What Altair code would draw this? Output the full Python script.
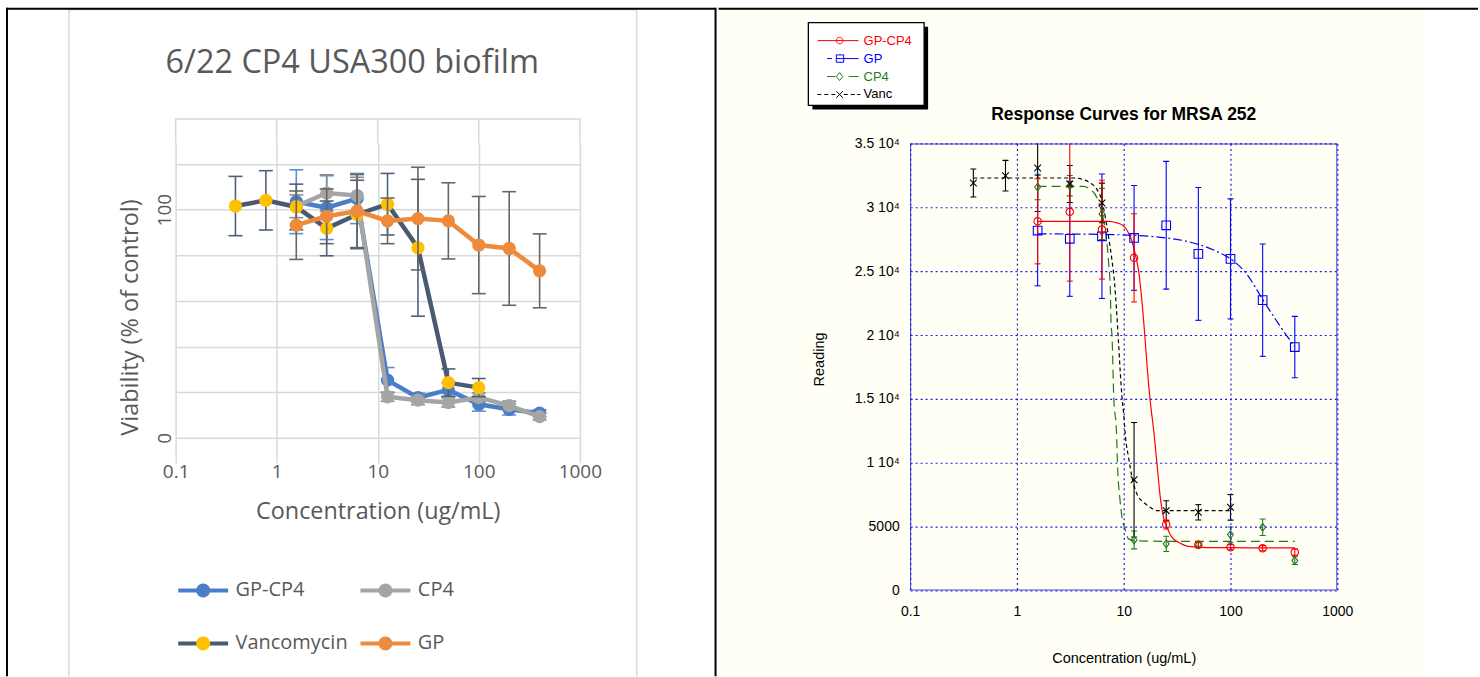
import math
import altair as alt
import pandas as pd

# ---------------- values ----------------
CONC = [0.390625, 0.78125, 1.5625, 3.125, 6.25, 12.5, 25, 50, 100, 200, 400]
X_TICKS = [0.1, 1, 10, 100, 1000]

# left panel: viability (% of control)
LEFT_SERIES = ["GP-CP4", "CP4", "Vancomycin", "GP"]
L_GPCP4 = [103.5, 100.9, 104.9, 25.3, 17.6, 21.0, 14.7, 12.5, 10.8]
L_GPCP4_ERR = [14, 14, 11, 5.5, 2, 3, 3, 2.5, 1.5]
L_CP4 = [101.5, 107.3, 106.2, 18.0, 16.5, 15.5, 17.7, 14.1, 9.3]
L_CP4_ERR = [5, 8, 8, 2, 2, 2, 2, 2, 1.5]
L_VANC = [101.6, 104.1, 101.2, 91.8, 97.9, 102.4, 83.3, 24.2, 22.0]
L_VANC_ERR = [13, 13, 10, 12, 15, 13.5, 30, 6, 4]
L_GP = [93.2, 97.1, 99.4, 95.1, 96.1, 95.1, 84.5, 83.0, 73.2]
L_GP_ERR = [15, 12, 16, 10, 22.5, 16.7, 21.3, 24.9, 16.2]
L_Y_TICKS = [0, 20, 40, 60, 80, 100, 120, 140]
L_Y_LABELED = [0, 100]

# right panel: reading
RIGHT_SERIES = ["GP-CP4", "GP", "CP4", "Vanc"]
R_GPCP4 = [28900, 29640, 28250, 26040, 5160, 3590, 3390, 3310, 3000]
R_GPCP4_ERR = [3330, 5420, 3870, 3450, 350, 250, 200, 200, 250]
R_GP = [28180, 27530, 27730, 27600, 28590, 26350, 25960, 22730, 19060]
R_GP_ERR = [4330, 4500, 4870, 4100, 5000, 5200, 4700, 4400, 2400]
R_CP4 = [31590, 31690, 29480, 3960, 3650, 3590, 4375, 4950, 2340]
R_CP4_ERR = [1000, 800, 2000, 700, 600, 200, 600, 650, 300]
R_VANC = [31900, 32470, 33070, 31820, 30340, 8670, 6250, 6120, 6510]
R_VANC_ERR = [1100, 1200, 3400, 1450, 1550, 4480, 780, 600, 1000]
R_Y_TICKS = [0, 5000, 10000, 15000, 20000, 25000, 30000, 35000]

# fitted response curves
FIT_GPCP4_X = [1.5625, 4, 7.2, 8.66, 10, 11.1, 11.96, 12.85, 13.8, 14.8, 15.9, 16.5, 17.7,
               19.1, 20.5, 22.0, 23.6, 25.4, 28.3, 32.7, 40, 60, 100, 200, 400]
FIT_GPCP4_Y = [28900, 28900, 28900, 28780, 28520, 27990, 27340, 26300, 25000, 22660, 19530, 17700, 14840,
               12500, 9900, 7290, 5730, 4950, 4160, 3770, 3450, 3360, 3350, 3340, 3340]
FIT_GP_X = [1.5625, 7.9, 12.5, 25, 38.9, 73.6, 100, 139, 200, 284, 400]
FIT_GP_Y = [27920, 27860, 27810, 27600, 27340, 26560, 25960, 24870, 22790, 20830, 19060]
FIT_CP4_X = [1.5625, 3.125, 4.2, 4.88, 5.63, 6.05, 6.5, 6.89, 7.24, 7.5, 7.6, 7.78, 8.07, 8.54,
             8.79, 9.18, 9.64, 10.4, 11.1, 12.85, 25, 50, 100, 200, 400]
FIT_CP4_Y = [31640, 31640, 31640, 31380, 30730, 29950, 28900, 27600, 25540, 23440, 21100, 19790, 15100, 12500,
             9375, 7290, 5730, 4690, 4040, 3900, 3850, 3850, 3850, 3850, 3850]
FIT_VANC_X = [0.390625, 1.5625, 3.4, 4.2, 4.88, 5.63, 6.27, 6.74, 7.24, 7.78, 8.18, 8.54, 8.85, 9.31,
              9.64, 10.0, 10.4, 11.1, 11.96, 13.3, 15.4, 17.7, 20.5, 50, 100]
FIT_VANC_Y = [32290, 32290, 32290, 32160, 31900, 31380, 30470, 29170, 27600, 25780, 24220, 22130, 20050, 16930,
              15100, 13800, 11980, 10410, 8850, 7550, 6900, 6510, 6250, 6250, 6250]

# ---------------- styles & layout ----------------
ONE = pd.DataFrame({"k": [0]})
L_FONT = "Open Sans"
L_TEXT = "#595959"
L_GRID = "#D9D9D9"
L_LINE = {"GP-CP4": "#4A7EC9", "CP4": "#A5A5A5", "Vancomycin": "#4A5A72", "GP": "#EE8A3C"}
L_MARK = {"GP-CP4": "#4A7EC9", "CP4": "#A5A5A5", "Vancomycin": "#FFC000", "GP": "#EE8A3C"}
L_ERRC = {"GP-CP4": "#5B8ED6", "CP4": "#8C8C8C", "Vancomycin": "#4F6079", "GP": "#666666"}

R_FONT = "Liberation Sans"
CREAM = "#FFFFF6"
R_FRAME = "#4343DC"
R_GRID = "#1A1AF0"
R_COL = {"GP-CP4": "#FF0000", "GP": "#0000FF", "CP4": "#1E7B1E", "Vanc": "#000000"}
R_SHAPE = {"GP-CP4": "circle", "GP": "square", "CP4": "M0,-1L0.75,0L0,1L-0.75,0Z",
           "Vanc": "M-1,-1L1,1M-1,1L1,-1"}
R_SIZE = {"GP-CP4": 55, "GP": 75, "CP4": 60, "Vanc": 45}
R_DASH = {"GP": [9, 3, 2, 3], "CP4": [9, 5], "Vanc": [4, 3]}

# page geometry.  Both panels share the same group origin row (y = 142); the left plot
# starts higher (117), so its y range reaches above the group origin.
RX0, RY0, RW, RH = 910, 142, 428, 448
LX0, LY0 = 176, RY0           # left group origin
L_TOP, L_BOT, LW = 117, 437, 405
LH = L_BOT - LY0


def deco_rule(x1, y1, x2, y2, ox, oy, color, width):
    enc = dict(x=alt.value(x1 - ox), y=alt.value(y1 - oy))
    if x1 != x2:
        enc["x2"] = alt.value(x2 - ox)
    if y1 != y2:
        enc["y2"] = alt.value(y2 - oy)
    return alt.Chart(ONE).mark_rule(color=color, strokeWidth=width).encode(**enc)


def deco_rect(x1, y1, x2, y2, ox, oy, **mark):
    return alt.Chart(ONE).mark_rect(**mark).encode(
        x=alt.value(x1 - ox), x2=alt.value(x2 - ox), y=alt.value(y1 - oy), y2=alt.value(y2 - oy))


# ---------------- left panel ----------------
lx_scale = alt.Scale(type="log", domain=[0.1, 1000])
ly_scale = alt.Scale(domain=[0, 140], nice=False, range=[LH, L_TOP - LY0])
lx_axis = alt.Axis(values=X_TICKS, format="~g", grid=True, gridColor=L_GRID, gridWidth=1.5,
                   domain=False, ticks=False, labelFont=L_FONT, labelFontSize=19, labelColor=L_TEXT,
                   labelPadding=40, labelBaseline="alphabetic", labelFlush=False, labelOverlap=False,
                   title="Concentration (ug/mL)", titleFont=L_FONT, titleFontSize=23.4,
                   titleFontWeight="normal", titleColor=L_TEXT, titleBaseline="alphabetic", titleY=81)
ly_axis = alt.Axis(values=L_Y_TICKS,
                   labelExpr=" || ".join(f"datum.value == {v}" for v in L_Y_LABELED) + " ? datum.label : ''",
                   grid=True, gridColor=L_GRID, gridWidth=1.5, domain=False, ticks=False,
                   labelFont=L_FONT, labelFontSize=19, labelColor=L_TEXT, labelAngle=270,
                   labelAlign="center", labelBaseline="alphabetic", labelPadding=5, labelOverlap=False,
                   title="Viability (% of control)", titleFont=L_FONT, titleFontSize=23.5,
                   titleFontWeight="normal", titleColor=L_TEXT, titleAngle=270, titleX=-38, titleY=316 - LY0,
                   titleAlign="center", titleBaseline="alphabetic")


def lx(f):
    return alt.X(f"{f}:Q", scale=lx_scale, axis=lx_axis)


def ly(f):
    return alt.Y(f"{f}:Q", scale=ly_scale, axis=ly_axis)


def left_layers(name, xs, ys, errs):
    df = pd.DataFrame({"conc": xs, "v": ys,
                       "lo": [a - e for a, e in zip(ys, errs)],
                       "hi": [a + e for a, e in zip(ys, errs)]})
    base = alt.Chart(df)
    ec = L_ERRC[name]
    out = [base.mark_rule(color=ec, strokeWidth=1.6).encode(x=lx("conc"), y=ly("lo"), y2="hi:Q")]
    for f in ("lo", "hi"):
        out.append(base.mark_tick(orient="horizontal", size=14, thickness=1.6, color=ec, opacity=1)
                   .encode(x=lx("conc"), y=ly(f)))
    out.append(base.mark_line(color=L_LINE[name], strokeWidth=4.5).encode(x=lx("conc"), y=ly("v")))
    out.append(base.mark_circle(color=L_MARK[name], size=177, opacity=1).encode(x=lx("conc"), y=ly("v")))
    return out


# vertical gridlines continue above the group origin up to the top of the plot area
grid_ext = alt.Chart(pd.DataFrame({"t": X_TICKS})).mark_rule(color=L_GRID, strokeWidth=1.5).encode(
    x=lx("t"), y=alt.value(L_TOP - LY0), y2=alt.value(0))

left_layers_all = [
    deco_rect(0, 0, 718, 677, LX0, LY0, fill="white", fillOpacity=0),
    deco_rule(69, 8, 69, 676, LX0, LY0, L_GRID, 1.5),
    deco_rule(69, 8, 638, 8, LX0, LY0, L_GRID, 1.5),
    deco_rule(638, 8, 638, 676, LX0, LY0, L_GRID, 1.5),
    deco_rule(6, 7, 717, 7, LX0, LY0, "black", 2),
    deco_rule(7, 6, 7, 676, LX0, LY0, "black", 2),
    deco_rule(717, 6, 717, 676, LX0, LY0, "black", 2),
    grid_ext,
    alt.Chart(ONE).mark_text(text="6/22 CP4 USA300 biofilm", font=L_FONT, fontSize=32.5, color=L_TEXT,
                             align="center", baseline="alphabetic")
    .encode(x=alt.value(353 - LX0), y=alt.value(71 - LY0)),
]
left_layers_all += left_layers("GP-CP4", CONC[2:], L_GPCP4, L_GPCP4_ERR)
left_layers_all += left_layers("CP4", CONC[2:], L_CP4, L_CP4_ERR)
left_layers_all += left_layers("Vancomycin", CONC[:9], L_VANC, L_VANC_ERR)
left_layers_all += left_layers("GP", CONC[2:], L_GP, L_GP_ERR)

# legend: a line legend and a marker legend with identical symbol bounds, drawn on top of each other
L_LEG_UNIT = 7  # sqrt(196)/2
half = 25 / L_LEG_UNIT
circle_unit = "M" + "L".join(f"{math.cos(2 * math.pi * i / 24):.3f},{math.sin(2 * math.pi * i / 24):.3f}"
                             for i in range(24)) + "Z"
line_sym = f"M{-half:.3f},0L{half:.3f},0M0,-1L0,-1M0,1L0,1"
dot_sym = f"M{-half:.3f},0L{half:.3f},0" + circle_unit
l_leg_common = dict(title=None, orient="none", legendX=193.6 - LX0, legendY=589 - 9 - LY0, columns=2,
                    direction="horizontal", padding=0, symbolSize=196, symbolStrokeWidth=4, symbolOpacity=1,
                    labelFont=L_FONT, labelFontSize=20, labelColor=L_TEXT, labelOffset=22.5, rowPadding=23,
                    columnPadding=4.6, labelLimit=300)
line_leg = alt.Legend(symbolType=line_sym, symbolFillColor="transparent", **l_leg_common)
dot_leg = alt.Legend(symbolType=dot_sym, symbolStrokeColor="transparent", labelOpacity=0, **l_leg_common)
lleg_df = pd.DataFrame({"series": LEFT_SERIES, "series_m": LEFT_SERIES})
left_layers_all.append(
    alt.Chart(lleg_df).mark_point(filled=False, clip=True, strokeWidth=4).encode(
        x=alt.value(-20), y=alt.value(20),
        stroke=alt.Stroke("series:N", scale=alt.Scale(domain=LEFT_SERIES, range=[L_LINE[s] for s in LEFT_SERIES]),
                          legend=line_leg)))
left_layers_all.append(
    alt.Chart(lleg_df).mark_point(filled=True, clip=True, strokeWidth=4).encode(
        x=alt.value(-20), y=alt.value(20),
        fill=alt.Fill("series_m:N", sort=LEFT_SERIES, scale=alt.Scale(range=[L_MARK[s] for s in LEFT_SERIES]),
                      legend=dot_leg)))

left = alt.layer(*left_layers_all).properties(width=LW, height=LH)

# ---------------- right panel ----------------
rx_scale = alt.Scale(type="log", domain=[0.1, 1000])
ry_scale = alt.Scale(domain=[0, 35000], nice=False)
rx_axis = alt.Axis(values=X_TICKS, format="~g", grid=True, gridColor=R_GRID, gridDash=[2, 3], gridWidth=1.2,
                   domain=False, ticks=False, labelFont=R_FONT, labelFontSize=14, labelColor="black",
                   labelPadding=25, labelBaseline="alphabetic", labelFlush=False, labelOverlap=False,
                   title="Concentration (ug/mL)", titleFont=R_FONT, titleFontSize=14.5,
                   titleFontWeight="normal", titleColor="black", titleBaseline="alphabetic", titleY=72,
                   zindex=1)
ry_axis = alt.Axis(values=R_Y_TICKS,
                   labelExpr="datum.value == 0 ? '0' : datum.value < 10000 ? format(datum.value, 'd') : "
                             "format(datum.value / 10000, '~g') + ' 10\u2074'",
                   grid=True, gridColor=R_GRID, gridDash=[2, 3], gridWidth=1.2, domain=False, ticks=False,
                   labelFont=R_FONT, labelFontSize=14, labelColor="black", labelAlign="right",
                   labelBaseline="middle", labelPadding=11, labelOverlap=False, labelFlush=False,
                   title="Reading", titleFont=R_FONT, titleFontSize=14.5, titleFontWeight="normal",
                   titleColor="black", titleAngle=270, titleX=-87, titleY=216, titleAlign="center",
                   titleBaseline="alphabetic", zindex=1)


def rx(f):
    return alt.X(f"{f}:Q", scale=rx_scale, axis=rx_axis)


def ry(f):
    return alt.Y(f"{f}:Q", scale=ry_scale, axis=ry_axis)


def right_curve(name, xs, ys):
    df = pd.DataFrame({"conc": xs, "v": ys})
    kw = dict(color=R_COL[name], strokeWidth=1.2, interpolate="monotone")
    if name in R_DASH:
        kw["strokeDash"] = R_DASH[name]
    return alt.Chart(df).mark_line(**kw).encode(x=rx("conc"), y=ry("v"))


def right_err(name, xs, ys, errs):
    df = pd.DataFrame({"conc": xs, "v": ys,
                       "lo": [a - e for a, e in zip(ys, errs)],
                       "hi": [a + e for a, e in zip(ys, errs)]})
    base = alt.Chart(df)
    c = R_COL[name]
    out = [base.mark_rule(color=c, strokeWidth=1.1, clip=True).encode(x=rx("conc"), y=ry("lo"), y2="hi:Q")]
    for f in ("lo", "hi"):
        out.append(base.mark_tick(orient="horizontal", size=6, thickness=1.1, color=c, opacity=1, clip=True)
                   .encode(x=rx("conc"), y=ry(f)))
    return out


def right_pts(name, xs, ys):
    df = pd.DataFrame({"conc": xs, "v": ys})
    return alt.Chart(df).mark_point(shape=R_SHAPE[name], size=R_SIZE[name], filled=False, color=R_COL[name],
                                    strokeWidth=1.1, opacity=1).encode(x=rx("conc"), y=ry("v"))


right_layers_all = [
    deco_rect(718, 0, 1480, 677, RX0, RY0, fill="white", fillOpacity=0),
    deco_rect(719, 8, 1422, RY0, RX0, RY0, fill=CREAM),
    deco_rect(719, RY0 + RH, 1422, 677, RX0, RY0, fill=CREAM),
    deco_rect(719, RY0, RX0, RY0 + RH, RX0, RY0, fill=CREAM),
    deco_rect(RX0 + RW, RY0, 1422, RY0 + RH, RX0, RY0, fill=CREAM),
    deco_rule(718, 7, 1479, 7, RX0, RY0, "black", 2),
    deco_rect(812, 25, 928, 108, RX0, RY0, fill="black"),
    deco_rect(808, 21, 924, 104, RX0, RY0, fill="white", stroke="black", strokeWidth=1.3),
    alt.Chart(ONE).mark_text(text="Response Curves for MRSA 252", font=R_FONT, fontSize=17.5, fontWeight="bold",
                             color="black", align="center", baseline="alphabetic")
    .encode(x=alt.value(1124 - RX0), y=alt.value(118.5 - RY0)),
]
right_layers_all += [
    right_curve("GP", FIT_GP_X, FIT_GP_Y),
    right_curve("CP4", FIT_CP4_X, FIT_CP4_Y),
    right_curve("Vanc", FIT_VANC_X, FIT_VANC_Y),
    right_curve("GP-CP4", FIT_GPCP4_X, FIT_GPCP4_Y),
]
right_layers_all += right_err("GP", CONC[2:], R_GP, R_GP_ERR)
right_layers_all += right_err("CP4", CONC[2:], R_CP4, R_CP4_ERR)
right_layers_all += right_err("Vanc", CONC[:9], R_VANC, R_VANC_ERR)
right_layers_all += right_err("GP-CP4", CONC[2:], R_GPCP4, R_GPCP4_ERR)
right_layers_all += [
    right_pts("GP", CONC[2:], R_GP),
    right_pts("CP4", CONC[2:], R_CP4),
    right_pts("Vanc", CONC[:9], R_VANC),
    right_pts("GP-CP4", CONC[2:], R_GPCP4),
]

# legend symbols: line style + marker, in legend units (1 unit = 5 px)
R_ENTRY_X = 812
R_SYM_C = R_ENTRY_X + 6.5


def u(xabs):
    return (xabs - R_SYM_C) / 5.0


def seg(a, b):
    return f"M{u(a):.2f},0L{u(b):.2f},0"


def circ(cx, r, n=20):
    pts = [f"{u(cx) + r / 5 * math.cos(2 * math.pi * i / n):.3f},{r / 5 * math.sin(2 * math.pi * i / n):.3f}"
           for i in range(n)]
    return "M" + "L".join(pts) + "Z"


def sq(cx, h):
    c, k = u(cx), h / 5
    return f"M{c - k:.2f},{-k:.2f}L{c + k:.2f},{-k:.2f}L{c + k:.2f},{k:.2f}L{c - k:.2f},{k:.2f}Z"


def diam(cx, hw, hh):
    c, a, b = u(cx), hw / 5, hh / 5
    return f"M{c:.2f},{-b:.2f}L{c + a:.2f},0L{c:.2f},{b:.2f}L{c - a:.2f},0Z"


def ex(cx, h):
    c, k = u(cx), h / 5
    return f"M{c - k:.2f},{-k:.2f}L{c + k:.2f},{k:.2f}M{c - k:.2f},{k:.2f}L{c + k:.2f},{-k:.2f}"


R_LEG_PATHS = {
    "GP-CP4": seg(817.3, 858.3) + circ(839.3, 3.3),
    "GP": seg(826.7, 831.7) + seg(836, 858.3) + sq(839.7, 3.7),
    "CP4": seg(826.7, 835.3) + diam(839.3, 3.2, 4.0) + seg(848.3, 858.3),
    "Vanc": seg(817, 821) + seg(824, 828) + seg(831, 835) + ex(839.3, 3.3) + seg(843.5, 847.5)
            + seg(850.5, 854.5) + seg(857, 860),
}
label_color_expr = " : ".join(f"datum.label == '{s}' ? '{R_COL[s]}'" for s in RIGHT_SERIES) + " : 'black'"
r_leg = alt.Legend(title=None, orient="none", legendX=R_ENTRY_X - RX0, legendY=39 - 6.5 - RY0,
                   direction="vertical", columns=1, padding=0, symbolSize=100, symbolStrokeWidth=1,
                   symbolOpacity=1, labelFont=R_FONT, labelFontSize=13, labelOffset=863.3 - R_ENTRY_X - 13,
                   rowPadding=4, labelColor=alt.ExprRef(expr=label_color_expr))
rleg_df = pd.DataFrame({"series": RIGHT_SERIES})
right_layers_all.append(
    alt.Chart(rleg_df).mark_point(filled=False, clip=True, opacity=1).encode(
        x=alt.value(-20), y=alt.value(-20),
        shape=alt.Shape("series:N", scale=alt.Scale(domain=RIGHT_SERIES, range=[R_LEG_PATHS[s] for s in RIGHT_SERIES]),
                        legend=r_leg),
        color=alt.Color("series:N", scale=alt.Scale(domain=RIGHT_SERIES, range=[R_COL[s] for s in RIGHT_SERIES]),
                        legend=r_leg)))

right = alt.layer(*right_layers_all).properties(
    width=RW, height=RH, view=alt.ViewBackground(fill=CREAM, stroke=R_FRAME, strokeWidth=2))

chart = (alt.hconcat(left, right, spacing=0)
         .resolve_scale(color="independent", shape="independent", stroke="independent", fill="independent")
         .resolve_legend(color="independent", shape="independent", stroke="independent", fill="independent")
         .properties(padding=0, background="white")
         .configure_view(strokeWidth=0))

chart.save("out.html", embed_options={"renderer": "svg", "actions": False})
